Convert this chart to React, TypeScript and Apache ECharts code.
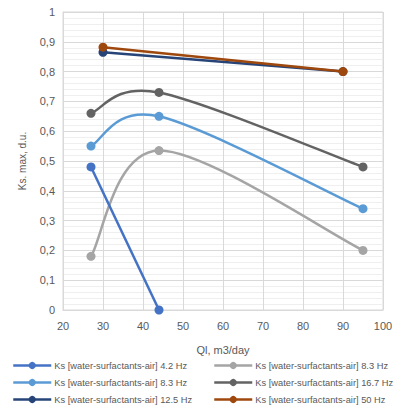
import React, { useEffect, useRef } from "react";
import * as echarts from "echarts";

const seriesNames = [
  "Ks [water-surfactants-air] 4.2 Hz",
  "Ks [water-surfactants-air] 8.3 Hz",
  "Ks [water-surfactants-air] 8.3 Hz ",
  "Ks [water-surfactants-air] 16.7 Hz",
  "Ks [water-surfactants-air] 12.5 Hz",
  "Ks [water-surfactants-air] 50 Hz",
];
const seriesColors = ["#4472C4", "#A5A5A5", "#5B9BD5", "#636363", "#264478", "#9E480E"];

const ql42 = [27, 44];
const ks42 = [0.48, 0];
const ql83grey = [27, 44, 95];
const ks83grey = [0.18, 0.535, 0.2];
const ql83blue = [27, 44, 95];
const ks83blue = [0.55, 0.65, 0.34];
const ql167 = [27, 44, 95];
const ks167 = [0.66, 0.73, 0.48];
const ql125 = [30, 90];
const ks125 = [0.865, 0.8];
const ql50 = [30, 90];
const ks50 = [0.882, 0.8];

const seriesX = [ql42, ql83grey, ql83blue, ql167, ql125, ql50];
const seriesY = [ks42, ks83grey, ks83blue, ks167, ks125, ks50];
const seriesSmooth = [false, true, true, true, false, false];

const xAxisTitle = "Ql, m3/day";
const yAxisTitle = "Ks. max, d.u.";

const legendPos = [
  { left: 12, top: 361 },
  { left: 213, top: 361 },
  { left: 12, top: 378 },
  { left: 213, top: 378 },
  { left: 12, top: 395 },
  { left: 213, top: 395 },
];

export default function App() {
  const ref = useRef<HTMLDivElement>(null);
  useEffect(() => {
    const chart = echarts.init(ref.current!, undefined, { renderer: "svg" });
    const font = "'Liberation Sans', Arial, sans-serif";

    const lineSeries = seriesNames.map((n, i) => ({
      name: n,
      type: "line",
      smooth: false,
      symbol: "circle",
      symbolSize: 9,
      color: seriesColors[i],
      lineStyle: { width: 2.5, color: seriesColors[i], opacity: seriesSmooth[i] ? 0 : 1 },
      itemStyle: { color: seriesColors[i] },
      data: seriesX[i].map((x, j) => [x, seriesY[i][j]]),
      z: 3 + i,
    }));

    // Excel-style (Catmull-Rom) smoothed curves drawn through the axes' scales
    const curveSeries = seriesNames
      .map((n, i) => ({ n, i }))
      .filter(({ i }) => seriesSmooth[i])
      .map(({ i }) => {
        const xs = seriesX[i];
        const ys = seriesY[i];
        const segs = xs.slice(0, -1).map((x, j) => [x, ys[j], j]);
        return {
          name: "curve" + i,
          type: "custom",
          z: 2 + i,
          silent: true,
          encode: { x: 0, y: 1 },
          data: segs,
          renderItem: (params: any, api: any) => {
            const j = api.value(2);
            const n = xs.length;
            const pt = (k: number) => api.coord([xs[Math.max(0, Math.min(n - 1, k))], ys[Math.max(0, Math.min(n - 1, k))]]);
            const p0 = pt(j - 1);
            const p1 = pt(j);
            const p2 = pt(j + 1);
            const p3 = pt(j + 2);
            const t = 6;
            return {
              type: "bezierCurve",
              shape: {
                x1: p1[0],
                y1: p1[1],
                cpx1: p1[0] + (p2[0] - p0[0]) / t,
                cpy1: p1[1] + (p2[1] - p0[1]) / t,
                cpx2: p2[0] - (p3[0] - p1[0]) / t,
                cpy2: p2[1] - (p3[1] - p1[1]) / t,
                x2: p2[0],
                y2: p2[1],
              },
              style: { stroke: seriesColors[i], lineWidth: 2.5, fill: null, lineCap: "round" },
            };
          },
        };
      });

    chart.setOption({
      animation: false,
      textStyle: { fontFamily: font },
      grid: { left: 63, right: 18, top: 12, bottom: 100, show: true, borderColor: "#D9D9D9", borderWidth: 1 },
      xAxis: {
        type: "value",
        min: 20,
        max: 100,
        interval: 10,
        name: xAxisTitle,
        nameLocation: "middle",
        nameGap: 34,
        nameTextStyle: { color: "#595959", fontSize: 11, fontFamily: font },
        axisLine: { show: true, lineStyle: { color: "#D9D9D9" } },
        axisTick: { show: false },
        axisLabel: { color: "#595959", fontSize: 11, margin: 10, fontFamily: font },
        splitLine: { show: true, lineStyle: { color: "#D9D9D9", width: 1 } },
      },
      yAxis: {
        type: "value",
        min: 0,
        max: 1,
        interval: 0.1,
        name: yAxisTitle,
        nameLocation: "middle",
        nameGap: 36,
        nameTextStyle: { color: "#595959", fontSize: 10, fontFamily: font, padding: [0, 0, 0, 0] },
        axisLine: { show: true, lineStyle: { color: "#D9D9D9" } },
        axisTick: { show: false },
        axisLabel: {
          color: "#595959",
          fontSize: 11,
          margin: 8,
          fontFamily: font,
          formatter: (v: number) => (Math.abs(v) < 1e-9 ? "0" : Math.abs(v - 1) < 1e-9 ? "1" : v.toFixed(1).replace(".", ",")),
        },
        splitLine: { show: true, lineStyle: { color: "#D9D9D9", width: 1 } },
        minorTick: { show: false, splitNumber: 5 },
        minorSplitLine: { show: true, lineStyle: { color: "#EFEFEF", width: 1 } },
      },
      legend: seriesNames.map((n, i) => ({
        data: [n],
        left: legendPos[i].left,
        top: legendPos[i].top,
        itemWidth: 38,
        itemHeight: 9,
        itemGap: 4,
        padding: 0,
        lineStyle: { opacity: 1, width: 2.5 },
        textStyle: { color: "#595959", fontSize: 9.3, fontFamily: font, padding: [0, 0, 0, -2] },
        formatter: (name: string) => name.trim(),
      })),
      series: [...curveSeries, ...lineSeries],
    });
    return () => chart.dispose();
  }, []);
  return <div ref={ref} style={{ width: 401, height: 410, position: "absolute", left: 0, top: 0 }} />;
}
